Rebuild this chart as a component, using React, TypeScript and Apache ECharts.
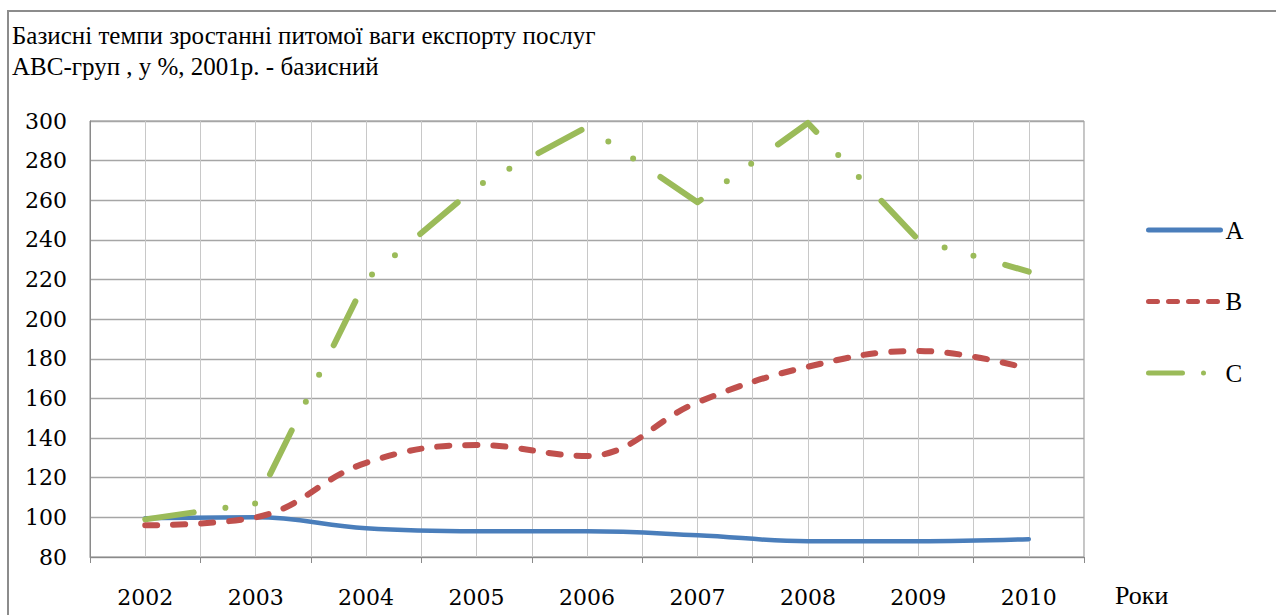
import React, { useEffect, useRef } from "react";
import * as echarts from "echarts";

const titleLines = [
  "Базисні темпи зростанні питомої ваги експорту послуг",
  "АВС-груп , у %, 2001р. - базисний",
];
const years = ["2002", "2003", "2004", "2005", "2006", "2007", "2008", "2009", "2010"];
const seriesNames = ["A", "B", "C"];
const valuesA = [99.5, 100, 94.5, 93, 93, 91, 88, 88, 89];
const valuesB = [96, 100, 127.5, 136.5, 131, 158, 176, 184, 175];
const valuesC = [99, 107, 220, 267, 297, 259, 299, 240, 224];
const yMin = 80;
const yMax = 300;
const yStep = 20;
const xAxisName = "Роки";

const FONT = "Liberation Serif";
const AXIS_FONT = "DejaVu Serif";

export default function App() {
  const ref = useRef<HTMLDivElement>(null);

  useEffect(() => {
    if (!ref.current) return;
    const chart = echarts.init(ref.current, null, { renderer: "svg" });
    const option: any = {
      animation: false,
      backgroundColor: "#ffffff",
      grid: {
        left: 90,
        top: 121,
        width: 994,
        height: 436,
        show: true,
        borderColor: "#8a8a8a",
        borderWidth: 1,
        backgroundColor: "transparent",
      },
      legend: {
        orient: "vertical",
        left: 1146,
        top: 215,
        padding: 0,
        itemWidth: 72,
        itemHeight: 14,
        itemGap: 41.5,
        itemStyle: { opacity: 0 },
        textStyle: { fontFamily: FONT, fontSize: 25, color: "#000", lineHeight: 30 },
        data: [
          { name: "A", lineStyle: { width: 5, cap: "round" } },
          { name: "B", lineStyle: { type: [9, 11], width: 5, cap: "round" } },
          { name: "C", lineStyle: { type: [34, 21, 0, 100], width: 5, cap: "round" } },
        ],
      },
      xAxis: [
        {
          type: "category",
          data: years,
          boundaryGap: true,
          axisLine: { show: true, lineStyle: { color: "#8a8a8a", width: 1 } },
          axisTick: { show: true, length: 6, lineStyle: { color: "#8a8a8a" } },
          axisLabel: {
            margin: 29,
            fontFamily: AXIS_FONT,
            fontSize: 22,
            color: "#000",
          },
          splitLine: { show: false },
        },
        {
          type: "value",
          min: 0,
          max: 18,
          interval: 1,
          position: "top",
          axisLine: { show: false },
          axisTick: { show: false },
          axisLabel: { show: false },
          splitLine: { show: true, lineStyle: { color: "#c8c8c8", width: 1 } },
        },
      ],
      yAxis: {
        type: "value",
        min: yMin,
        max: yMax,
        interval: yStep,
        axisLine: { show: true, lineStyle: { color: "#8a8a8a", width: 1 } },
        axisTick: { show: false },
        axisLabel: {
          fontFamily: AXIS_FONT,
          fontSize: 22,
          color: "#000",
          margin: 23,
        },
        splitLine: { show: true, lineStyle: { color: "#a6a6a6", width: 1.3 } },
      },
      graphic: [
        {
          type: "rect",
          shape: { x: 8, y: 11, width: 1290, height: 640 },
          style: { fill: "none", stroke: "#8c8c8c", lineWidth: 2 },
          silent: true,
          z: -10,
        },
        {
          type: "text",
          left: 12,
          top: 20,
          style: {
            text: titleLines.join("\n"),
            font: `25px ${FONT}`,
            lineHeight: 31,
            fill: "#000",
          },
        },
        {
          type: "text",
          left: 1115,
          top: 582,
          style: { text: xAxisName, font: `26px ${FONT}`, fill: "#000" },
        },
      ],
      series: [
        {
          name: seriesNames[0],
          type: "line",
          data: valuesA,
          smooth: 0.4,
          showSymbol: false,
          symbol: "none",
          lineStyle: { color: "#4a7ebb", width: 4.5, cap: "round" },
          itemStyle: { color: "#4a7ebb" },
          z: 3,
        },
        {
          name: seriesNames[1],
          type: "line",
          data: valuesB,
          smooth: 0.4,
          showSymbol: false,
          symbol: "none",
          lineStyle: { color: "#c0504d", width: 6, type: [12, 16], cap: "round" },
          itemStyle: { color: "#c0504d" },
          z: 4,
        },
        {
          name: seriesNames[2],
          type: "line",
          data: valuesC,
          smooth: false,
          showSymbol: false,
          symbol: "none",
          lineStyle: {
            color: "#9bbb59",
            width: 6,
            type: [49, 32, 0, 30, 0, 33],
            cap: "round",
            join: "round",
          },
          itemStyle: { color: "#9bbb59" },
          z: 5,
        },
      ],
    };
    chart.setOption(option);
    return () => chart.dispose();
  }, []);

  return (
    <div
      ref={ref}
      style={{ position: "fixed", left: 0, top: 0, width: 1276, height: 615 }}
    />
  );
}
